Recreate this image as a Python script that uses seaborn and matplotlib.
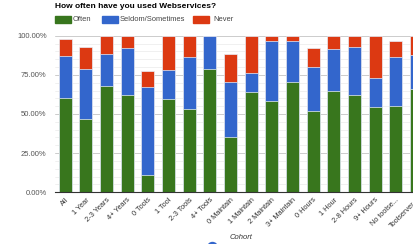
import numpy as np
import pandas as pd
import matplotlib
matplotlib.use("Agg")
import matplotlib.pyplot as plt
from matplotlib.patches import Rectangle, Ellipse
from matplotlib.ticker import FuncFormatter, MultipleLocator
import seaborn as sns

# data (percent of cohort)
cohorts = ["All", "1 Year", "2-3 Years", "4+ Years", "0 Tools", "1 Tool", "2-3 Tools",
           "4+ Tools", "0 Maintain", "1 Maintain", "2 Maintain", "3+ Maintain",
           "0 Hours", "1 Hour", "2-8 Hours", "9+ Hours", "No toolse...", "Toolserver..."]
often = [60.0, 46.6, 67.7, 61.9, 11.1, 59.4, 53.4, 78.9, 35.1, 64.3, 58.0, 70.6,
         51.9, 64.7, 61.9, 54.7, 54.9, 65.7]
seldom = [27.0, 31.9, 20.6, 30.0, 55.9, 18.7, 33.2, 21.1, 35.5, 11.7, 38.6, 26.2,
          27.9, 26.6, 31.1, 18.1, 31.3, 22.2]
never = [10.9, 14.5, 11.7, 8.1, 10.7, 21.9, 13.4, 0.0, 17.7, 24.0, 3.4, 3.2,
         12.1, 8.7, 7.0, 27.2, 10.4, 12.1]
series = ["Often", "Seldom/Sometimes", "Never"]
colors = ["#38761d", "#3366cc", "#dc3912"]

sns.set_style("white")
plt.rcParams["font.family"] = ["Liberation Sans", "DejaVu Sans"]

df = pd.DataFrame({"Cohort": cohorts, "Often": often, "Seldom": seldom, "Never": never})
df["t_often"] = df["Often"]
df["t_seldom"] = df["Often"] + df["Seldom"]
df["t_never"] = df["t_seldom"] + df["Never"]

W, H = 414, 244
fig = plt.figure(figsize=(W / 100, H / 100), dpi=100)
ax = fig.add_axes([55 / W, (H - 192.3) / H, 371.7 / W, 156.6 / H])

# stacked bars: draw cumulative tops, largest first
for col, c in zip(["t_never", "t_seldom", "t_often"], colors[::-1]):
    sns.barplot(data=df, x="Cohort", y=col, color=c, width=0.63, ax=ax,
                edgecolor="#e8eef8", linewidth=0.5, saturation=1, zorder=3)

ax.set_ylim(0, 100)
ax.set_xlim(-0.5, len(cohorts) - 0.5)
ax.yaxis.set_major_locator(MultipleLocator(25))
ax.yaxis.set_minor_locator(MultipleLocator(5))
ax.yaxis.set_major_formatter(FuncFormatter(lambda v, p: f"{v:.2f}%"))
ax.grid(axis="y", which="major", color="#cccccc", linewidth=0.7, zorder=0)
ax.grid(axis="y", which="minor", color="#eeeeee", linewidth=0.6, zorder=0)
ax.set_axisbelow(True)
for s in ["top", "right", "left"]:
    ax.spines[s].set_visible(False)
ax.spines["bottom"].set_color("#333333")
ax.spines["bottom"].set_linewidth(0.8)
ax.spines["bottom"].set_zorder(4)
ax.tick_params(axis="y", length=0, pad=6, labelsize=5.5, labelcolor="#555555")
ax.tick_params(axis="y", which="minor", length=0)
ax.tick_params(axis="x", length=0, pad=3, labelsize=5.3, labelcolor="#333333")
plt.setp(ax.get_xticklabels(), rotation=45, ha="right", rotation_mode="anchor")
ax.set_xlabel("")
ax.set_ylabel("")

# title
fig.text(55 / W, 1 - 6.5 / H, "How often have you used Webservices?", fontsize=6.0,
         fontweight="bold", color="#000000", va="center", ha="left")

# legend
leg = [(55, 73), (102, 120), (193, 213)]
for (px, tx), name, c in zip(leg, series, colors):
    fig.add_artist(Rectangle((px / W, 1 - 22.5 / H), 16.5 / W, 6 / H, color=c,
                             transform=fig.transFigure))
    fig.text(tx / W, 1 - 19.5 / H, name, fontsize=5.4, color="#444444",
             va="center", ha="left")

# axis title
fig.text(241 / W, 1 - 237.5 / H, "Cohort", fontsize=5.5, style="italic",
         color="#333333", ha="center", va="center")

# partially visible marker at the bottom edge
fig.add_artist(Ellipse((212.5 / W, 1 - 246.5 / H), 9 / W, 8 / H, color="#3366cc",
                       transform=fig.transFigure))

fig.savefig("out.png", dpi=100)
